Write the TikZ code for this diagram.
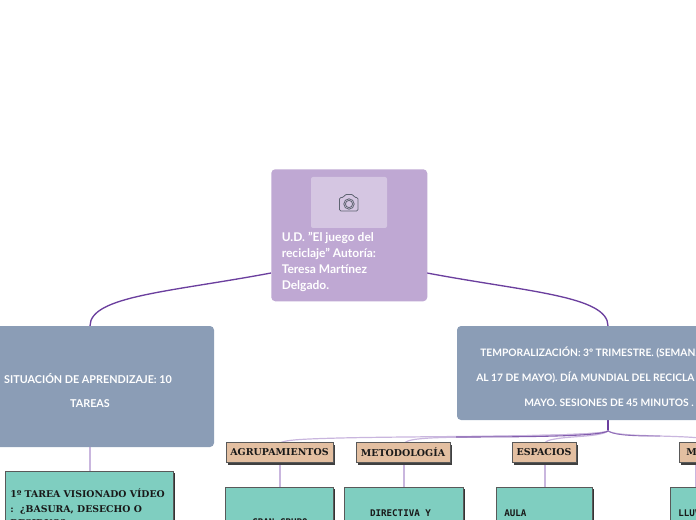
\documentclass[tikz,border=0pt]{standalone}
\usepackage{fontspec}
\setmainfont{Lato}
\newfontfamily\slab{DejaVu Serif}
\newfontfamily\monoish{DejaVu Sans Mono}
\definecolor{rootfill}{HTML}{BFA8D3}
\definecolor{photofill}{HTML}{D5C6E2}
\definecolor{bluefill}{HTML}{8B9DB6}
\definecolor{tealfill}{HTML}{7FCEC0}
\definecolor{tanfill}{HTML}{E3BFA1}
\definecolor{purpleline}{HTML}{6B3F9E}
\definecolor{lightline}{HTML}{C9B6DE}
\definecolor{iconcol}{HTML}{5F6472}
\usetikzlibrary{shadows}
\tikzset{
 x=0.75pt,y=-0.75pt,
 mainline/.style={purpleline,line width=1pt},
 thinline/.style={lightline,line width=0.9pt},
 bluebox/.style={fill=bluefill,rounded corners=3pt,draw=none},
 bluetext/.style={white,font=\fontsize{8.1}{14}\selectfont\bfseries,align=center,inner sep=0},
 tempotext/.style={white,font=\fontsize{7.7}{14}\selectfont\bfseries,inner sep=0,anchor=west},
 headbox/.style={fill=tanfill,draw=gray!70!black,line width=0.5pt,
   drop shadow={shadow xshift=1.5pt,shadow yshift=-1.5pt,fill=black!75,opacity=1},
   inner sep=0,font=\fontsize{7.1}{9}\selectfont\slab\bfseries,text=black!90},
 tealbox/.style={fill=tealfill,draw=gray!70!black,line width=0.5pt,
   drop shadow={shadow xshift=1.2pt,shadow yshift=-1.2pt,fill=black!80,opacity=1}},
 tasktext/.style={inner sep=0,align=left,anchor=north west,font=\fontsize{7}{10.6}\selectfont\slab\bfseries,text=black!90},
 monotext/.style={inner sep=0,font=\fontsize{6.9}{12}\selectfont\monoish\bfseries,text=black!90},
}
\begin{document}
\begin{tikzpicture}
\useasboundingbox (0,0) rectangle (696,520);
\clip (0,0) rectangle (696,520);
% named anchors
\coordinate (rootL) at (271,273);
\coordinate (rootR) at (427,273);
\coordinate (leftTop) at (90,326);
\coordinate (rightTop) at (608,326);
\coordinate (rightBot) at (608,420);
\coordinate (leftBot) at (90,447);
\coordinate (task) at (90,471);
\coordinate (fork) at (608,431);
\coordinate (h1) at (280,443);
\coordinate (h2) at (404,443);
\coordinate (h3) at (545,443);
\coordinate (h4) at (712,443);
% connectors
\draw[mainline] (rootL) .. controls (170,292) and (90,296) .. (leftTop);
\draw[mainline] (rootR) .. controls (528,292) and (608,296) .. (rightTop);
\draw[thinline] (leftBot) -- (task);
\draw[mainline] (rightBot) -- (fork);
\draw[thinline] (fork) .. controls (600,437) and (420,436) .. (340,438) .. controls (300,439) and (285,440) .. (h1);
\draw[thinline] (fork) .. controls (600,436) and (470,436) .. (430,438) .. controls (415,439) and (408,440) .. (h2);
\draw[thinline] (fork) .. controls (600,437) and (570,436) .. (555,439) .. controls (549,440) and (546,441) .. (h3);
\draw[thinline] (fork) .. controls (618,437) and (670,435) .. (700,438) .. controls (706,439) and (710,441) .. (h4);
\draw[purpleline!75!lightline,line width=0.8pt] (fork) .. controls (600,436) and (540,437) .. (456,437);
\draw[purpleline!60!lightline,line width=0.7pt] (fork) .. controls (616,436) and (640,436) .. (660,436);
\draw[thinline] (280,464) -- (280,487);
\draw[thinline] (404,464) -- (404,487);
\draw[thinline] (545,464) -- (545,487);
\draw[thinline] (696,464) -- (696,487);
% root
\node[bluebox,fill=rootfill,anchor=north west,minimum width=156*0.75pt,minimum height=132*0.75pt,inner sep=0] (root) at (271,169) {};
\fill[photofill,rounded corners=1.5pt] (311,177) rectangle (387,228);
\begin{scope}[iconcol,line width=0.6pt]
\draw[rounded corners=1pt] (339.5,197.5) -- (343.5,197.5) -- (345,194.5) -- (353,194.5) -- (354.5,197.5) -- (358,197.5) -- (358,211) -- (339.5,211) -- cycle;
\draw (349,204) circle[radius=5.2];
\draw (349,204) circle[radius=3.6];
\end{scope}
\node[white,font=\fontsize{9}{12}\selectfont\bfseries,align=left,anchor=north west,inner sep=0] (rootText) at (281.5,232) {U.D. "El juego del\\reciclaje" Autoría:\\Teresa Martínez\\Delgado.};
% blue boxes
\path[bluebox] (-20,326) rectangle (214,447);
\node[bluetext] (sit1) at (88,378.5) {SITUACIÓN DE APRENDIZAJE: 10};
\node[bluetext] (sit2) at (90,403.5) {TAREAS};
\path[bluebox] (457,326) rectangle (760,420);
\node[tempotext] (tem1) at (480,352.5) {TEMPORALIZACIÓN: 3º TRIMESTRE. (SEMAN.};
\node[tempotext] (tem2) at (476,377.5) {AL 17 DE MAYO). DÍA MUNDIAL DEL RECICLA};
\node[tempotext] (tem3) at (524,402.5) {MAYO. SESIONES DE 45 MINUTOS .};
% heads
\node[headbox,minimum width=107*0.75pt,minimum height=20*0.75pt] (agr) at (279.5,452.5) {AGRUPAMIENTOS};
\node[headbox,minimum width=94*0.75pt,minimum height=20*0.75pt] (met) at (403,452.5) {METODOLOGÍA};
\node[headbox,minimum width=64*0.75pt,minimum height=20*0.75pt] (esp) at (544,452.5) {ESPACIOS};
\node[headbox,anchor=west,minimum width=60*0.75pt,minimum height=20*0.75pt,text width=54*0.75pt,align=left] (mat) at (679,452.5) {\hspace{3pt}MA};
% teal boxes
\path[tealbox] (5,471) rectangle (173,560);
\node[tasktext] (t1) at (10,489) {1º TAREA VISIONADO VÍDEO\\:~~¿BASURA, DESECHO O\\RESIDUO?};
\path[tealbox] (225,487) rectangle (333,560);
\node[monotext] (g1) at (280,522) {GRAN GRUPO};
\path[tealbox] (344,487) rectangle (463,560);
\node[monotext] (d1) at (400.5,513.5) {DIRECTIVA Y};
\path[tealbox] (496,487) rectangle (592,560);
\node[monotext,anchor=west] (a1) at (504,513.5) {AULA};
\path[tealbox] (670,487) rectangle (760,560);
\node[monotext,anchor=west] (l1) at (678,513) {LLUV};
\end{tikzpicture}
\end{document}
